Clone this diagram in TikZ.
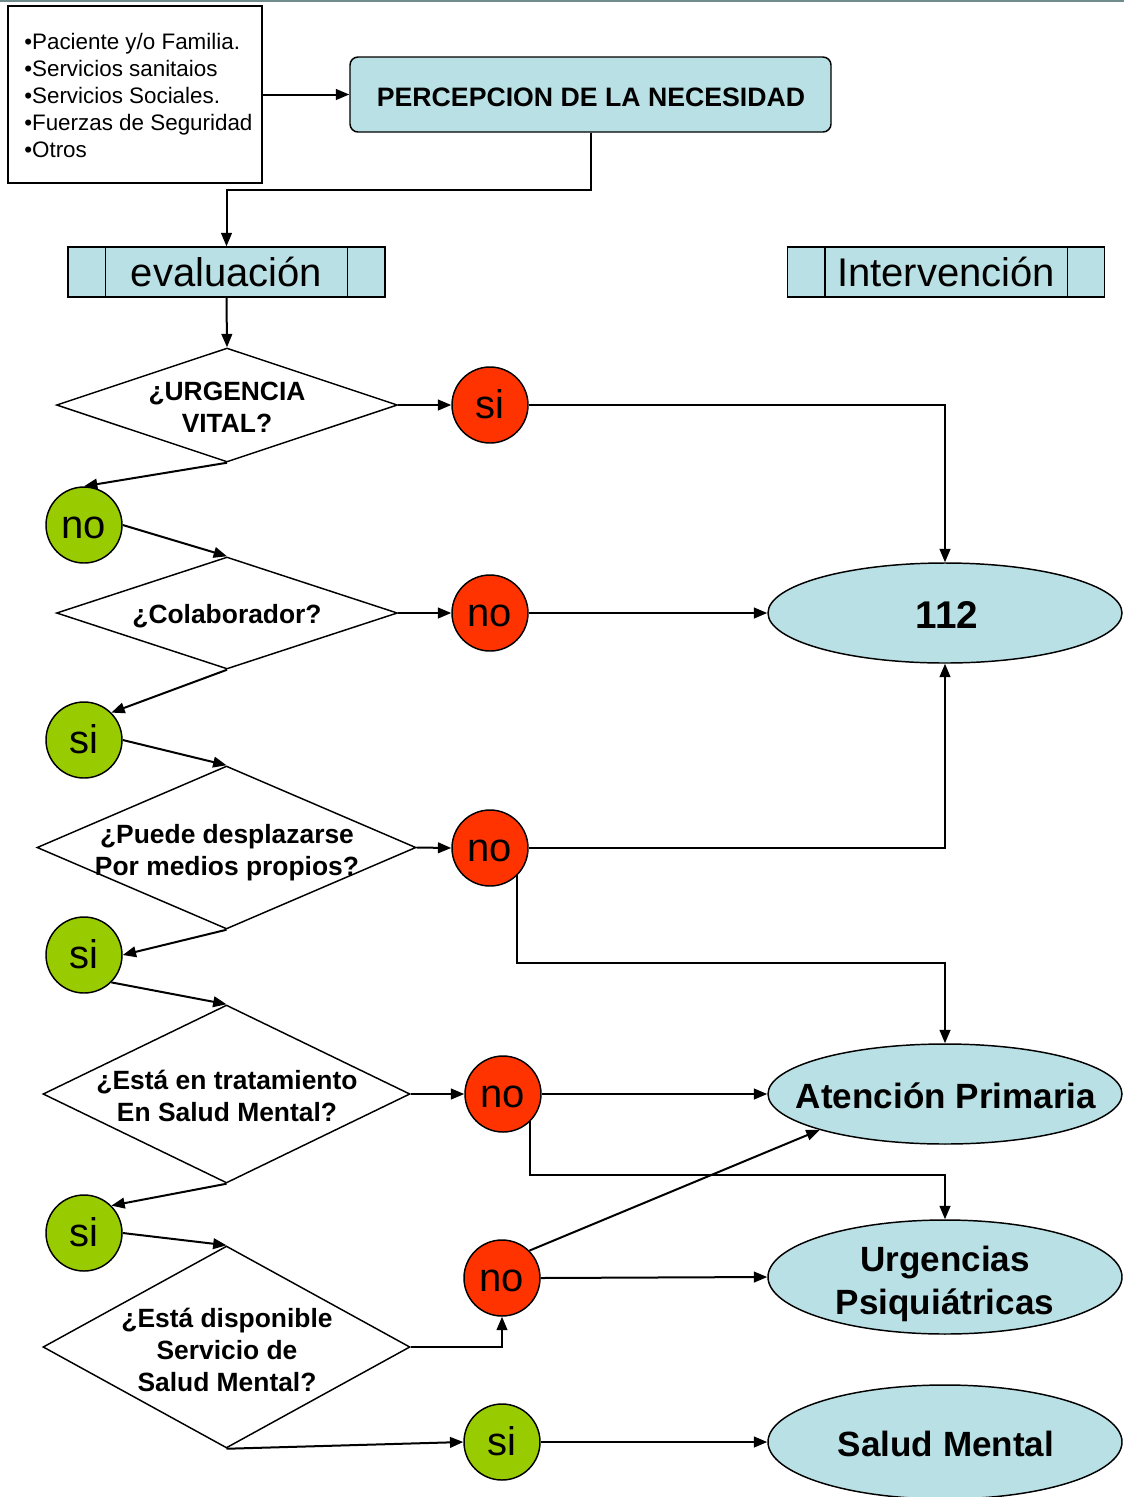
\documentclass[tikz,border=0pt]{standalone}
\usepackage{fontspec}
\setmainfont{Liberation Sans}
\usetikzlibrary{shapes.geometric,arrows.meta,calc}
\definecolor{boxfill}{RGB}{185,224,228}
\definecolor{redball}{RGB}{255,51,0}
\definecolor{greenball}{RGB}{153,204,0}
\definecolor{topline}{RGB}{111,139,139}
\tikzset{
  conn/.style={line width=1.5pt, -{Triangle[length=10pt,width=8pt]}},
  plain/.style={line width=1.1pt},
  answer/.style={circle, draw, line width=1.1pt, minimum size=57pt, inner sep=0pt,
    text height=27.15pt, text depth=6.36pt, font=\fontsize{30}{36}\selectfont},
  redans/.style={answer, fill=redball},
  greenans/.style={answer, fill=greenball},
  question/.style={diamond, draw, line width=1.1pt, inner sep=0pt},
  qtext/.style={align=center, inner sep=0pt, font=\bfseries\fontsize{19.8}{24}\selectfont},
  target/.style={ellipse, draw, fill=boxfill, line width=1.1pt, inner sep=0pt,
    minimum width=265.5pt},
  tlabel/.style={align=center, inner sep=0pt, font=\bfseries\fontsize{26.3}{32.25}\selectfont},
  header/.style={draw, fill=boxfill, line width=1.1pt, minimum width=237.75pt,
    minimum height=37.5pt, inner sep=0pt, font=\fontsize{30}{36}\selectfont},
}
\begin{document}
\begin{tikzpicture}[x=0.75pt,y=-0.75pt]
\useasboundingbox (0,0) rectangle (1124,1497);
\clip (0,0) rectangle (1124,1497);
\draw[topline, line width=1.5pt] (0,1) -- (1124,1);

% sources and perception
\node[draw, line width=1.1pt, minimum width=190.5pt, minimum height=132.75pt,
  inner sep=0pt] (src) at (135,94.5) {};
\node[anchor=west, align=left, inner sep=0pt, font=\fontsize{16.8}{20.25}\selectfont]
  (srct) at (24,95.5)
  {•Paciente y/o Familia.\\•Servicios sanitaios\\•Servicios Sociales.\\•Fuerzas de Seguridad\\•Otros};
\node[draw, fill=boxfill, line width=1.1pt, rounded corners=6pt, minimum width=360.75pt,
  minimum height=56.25pt, inner sep=0pt] (perc) at (590.5,94.5) {};
\node[inner sep=0pt, font=\bfseries\fontsize{20}{24}\selectfont] (perct) at (591,97)
  {PERCEPCION DE LA NECESIDAD};

% column headers
\node[header] (ev) at (226.5,272) {evaluación};
\node[header] (iv) at (946,272) {Intervención};
\foreach \h in {ev,iv}{
  \draw[plain] ([xshift=28.5pt]\h.north west) -- ([xshift=28.5pt]\h.south west);
  \draw[plain] ([xshift=-28.5pt]\h.north east) -- ([xshift=-28.5pt]\h.south east);
}

% questions
\node[question, minimum width=255.75pt, minimum height=85.5pt] (d1) at (227,405) {};
\node[qtext] (d1t) at (227,407) {¿URGENCIA\\VITAL?};
\node[question, minimum width=255.75pt, minimum height=84pt] (d2) at (227,613) {};
\node[qtext] (d2t) at (227,616) {¿Colaborador?};
\node[question, minimum width=284.25pt, minimum height=122.25pt] (d3) at (226.5,847.5) {};
\node[qtext] (d3t) at (227,853) {¿Puede desplazarse\\Por medios propios?};
\node[question, minimum width=275.25pt, minimum height=133.5pt] (d4) at (226.5,1094) {};
\node[qtext] (d4t) at (227,1096) {¿Está en tratamiento\\En Salud Mental?};
\node[question, minimum width=275.25pt, minimum height=151.5pt] (d5) at (226.5,1347) {};
\node[qtext] (d5t) at (227,1350) {¿Está disponible\\Servicio de\\Salud Mental?};

% answers
\node[redans]   (si1) at (490,405)  {si};
\node[greenans] (no1) at (84,525)   {no};
\node[redans]   (no2) at (490,613)  {no};
\node[greenans] (si2) at (84,740)   {si};
\node[redans]   (no3) at (490,848)  {no};
\node[greenans] (si3) at (84,955)   {si};
\node[redans]   (no4) at (503,1094) {no};
\node[greenans] (si4) at (84,1233)  {si};
\node[redans]   (no5) at (502,1278) {no};
\node[greenans] (si5) at (502,1442) {si};

% interventions
\node[target, minimum height=75pt]   (e112) at (945,613)  {};
\node[tlabel, font=\bfseries\fontsize{29}{35}\selectfont] (e112t) at (947,615) {112};
\node[target, minimum height=75pt]   (eAP)  at (945,1094) {};
\node[tlabel] (eAPt) at (946,1096) {Atención Primaria};
\node[target, minimum height=85.5pt] (eUP)  at (945,1277) {};
\node[tlabel] (eUPt) at (945,1284) {Urgencias\\Psiquiátricas};
\node[target, minimum height=85.5pt] (eSM)  at (945,1442) {};
\node[tlabel] (eSMt) at (946,1444) {Salud Mental};

% connectors
\draw[conn] (src.east) -- (perc.west);
\draw[conn] (perc.south) -- ++(0,57) -| (ev.north);
\draw[conn] (ev.south) -- (d1.north);
\draw[conn] (d1.east) -- (si1.west);
\draw[conn] (si1.east) -| (e112.north);
\draw[conn] (d1.south) -- (no1.north);
\draw[conn] (no1.east) -- (d2.north);
\draw[conn] (d2.east) -- (no2.west);
\draw[conn] (no2.east) -- (e112.west);
\draw[conn] (d2.south) -- (si2.north east);
\draw[conn] (si2.east) -- (d3.north);
\draw[conn] (d3.east) -- (no3.west);
\draw[conn] (no3.east) -| (e112.south);
\draw[conn] (no3.south east) |- ($(eAP.north)+(0,-80)$) -- (eAP.north);
\draw[conn] (d3.south) -- (si3.east);
\draw[conn] (si3.south east) -- (d4.north);
\draw[conn] (d4.east) -- (no4.west);
\draw[conn] (no4.east) -- (eAP.west);
\draw[conn] (no4.south east) |- ($(eUP.north)+(0,-44)$) -- (eUP.north);
\draw[conn] (d4.south) -- (si4.north east);
\draw[conn] (si4.east) -- (d5.north);
\draw[conn] (d5.east) -| (no5.south);
\draw[conn] (no5.north east) -- (eAP.196);
\draw[conn] (no5.east) -- (eUP.west);
\draw[conn] (d5.south) -- (si5.west);
\draw[conn] (si5.east) -- (eSM.west);
\end{tikzpicture}
\end{document}
